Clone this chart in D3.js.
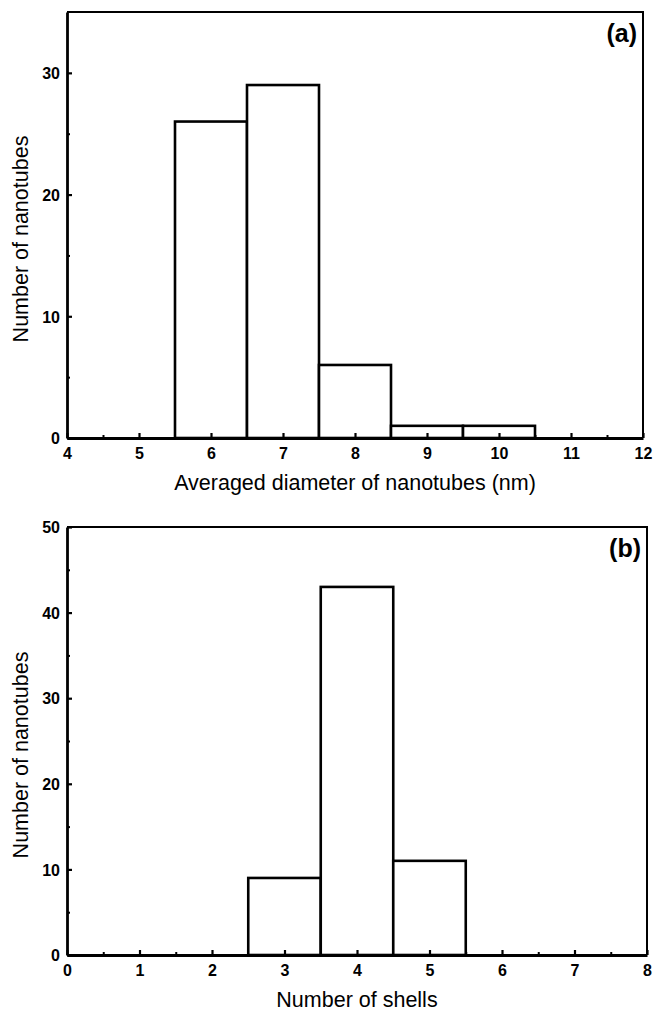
<!DOCTYPE html>
<html>
<head>
<meta charset="utf-8">
<script src="https://cdn.jsdelivr.net/npm/d3@7"></script>
<style>
  body { margin: 0; background: #fff; }
  svg { display: block; }
</style>
</head>
<body>
<div id="chart"></div>
<script>
// panel (a) data
var diam_centers = [6, 7, 8, 9, 10];
var diam_counts = [26, 29, 6, 1, 1];
var diam_ticks = [4, 5, 6, 7, 8, 9, 10, 11, 12];
var diam_y_ticks = [0, 10, 20, 30];

// panel (b) data
var shell_centers = [3, 4, 5];
var shell_counts = [9, 43, 11];
var shell_ticks = [0, 1, 2, 3, 4, 5, 6, 7, 8];
var shell_y_ticks = [0, 10, 20, 30, 40, 50];

var font = "'Liberation Sans', Arial, sans-serif";

var svg = d3.select("#chart").append("svg")
    .attr("width", 656)
    .attr("height", 1011);

// draws one histogram panel
function draw_panel(opts) {
    var x = d3.scaleLinear().domain(opts.x_domain).range([opts.left, opts.right]);
    var y = d3.scaleLinear().domain(opts.y_domain).range([opts.bottom, opts.top]);
    var g = svg.append("g");

    // minor ticks
    var x_minor = d3.range(opts.x_domain[0] + 0.5, opts.x_domain[1], 1);
    var y_minor = d3.range(opts.y_domain[0] + 5, opts.y_domain[1], 10);

    g.append("g")
        .attr("transform", `translate(0,${opts.bottom})`)
        .call(d3.axisBottom(x).tickValues(x_minor).tickSize(-3).tickFormat(""))
        .call(a => a.select(".domain").remove())
        .selectAll("line").attr("stroke-width", 2);
    g.append("g")
        .attr("transform", `translate(${opts.left},0)`)
        .call(d3.axisLeft(y).tickValues(y_minor).tickSize(-3).tickFormat(""))
        .call(a => a.select(".domain").remove())
        .selectAll("line").attr("stroke-width", 2);

    // bars
    g.selectAll("rect.bar")
        .data(opts.centers)
        .enter().append("rect")
        .attr("class", "bar")
        .attr("x", d => x(d - 0.5))
        .attr("width", d => x(d + 0.5) - x(d - 0.5))
        .attr("y", (d, i) => y(opts.counts[i]))
        .attr("height", (d, i) => y(0) - y(opts.counts[i]))
        .attr("fill", "#fff")
        .attr("stroke", "#000")
        .attr("stroke-width", 2.6);

    // frame (top and right)
    g.append("path")
        .attr("d", `M${opts.left},${opts.top}H${opts.right}V${opts.bottom}`)
        .attr("fill", "none")
        .attr("stroke", "#000")
        .attr("stroke-width", 2);

    // major axes
    var xa = g.append("g")
        .attr("transform", `translate(0,${opts.bottom})`)
        .call(d3.axisBottom(x).tickValues(opts.x_ticks).tickSizeInner(-5).tickSizeOuter(0).tickPadding(0));
    xa.select(".domain").attr("stroke-width", 2.8);
    xa.selectAll(".tick line").attr("stroke-width", 2.2);
    xa.selectAll(".tick text")
        .attr("y", 21).attr("dy", null)
        .attr("font-family", font).attr("font-size", 16).attr("font-weight", "bold");

    var ya = g.append("g")
        .attr("transform", `translate(${opts.left},0)`)
        .call(d3.axisLeft(y).tickValues(opts.y_ticks).tickSizeInner(-5).tickSizeOuter(0).tickPadding(7));
    ya.select(".domain").attr("stroke-width", 2.8);
    ya.selectAll(".tick line").attr("stroke-width", 2.2);
    ya.selectAll(".tick text")
        .attr("dy", "0.36em")
        .attr("font-family", font).attr("font-size", 16).attr("font-weight", "bold");

    // labels
    g.append("text")
        .attr("x", (opts.left + opts.right) / 2)
        .attr("y", opts.bottom + 52)
        .attr("text-anchor", "middle")
        .attr("font-family", font)
        .attr("font-size", 21.5)
        .text(opts.x_title);
    g.append("text")
        .attr("transform", `translate(28,${(opts.top + opts.bottom) / 2 + 14}) rotate(-90)`)
        .attr("text-anchor", "middle")
        .attr("font-family", font)
        .attr("font-size", 21.5)
        .text("Number of nanotubes");
    g.append("text")
        .attr("x", opts.right - 6)
        .attr("y", opts.top + 30)
        .attr("text-anchor", "end")
        .attr("font-family", font)
        .attr("font-size", 25)
        .attr("font-weight", "bold")
        .text(opts.tag);
}

draw_panel({
    x_domain: [4, 12], y_domain: [0, 35],
    left: 67, right: 643, top: 12, bottom: 438,
    centers: diam_centers, counts: diam_counts,
    x_ticks: diam_ticks, y_ticks: diam_y_ticks,
    x_title: "Averaged diameter of nanotubes (nm)", tag: "(a)"
});

draw_panel({
    x_domain: [0, 8], y_domain: [0, 50],
    left: 67, right: 647, top: 527, bottom: 955,
    centers: shell_centers, counts: shell_counts,
    x_ticks: shell_ticks, y_ticks: shell_y_ticks,
    x_title: "Number of shells", tag: "(b)"
});
</script>
</body>
</html>
